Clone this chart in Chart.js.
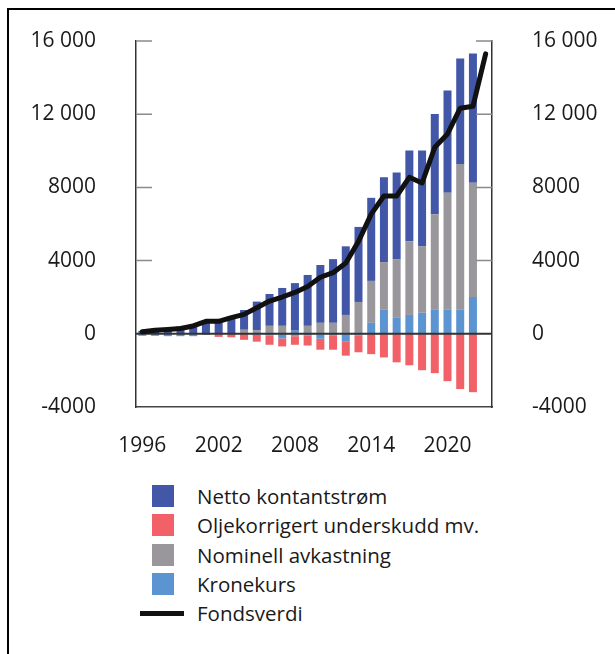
<!DOCTYPE html>
<html>
<head>
<meta charset="utf-8">
<script src="https://cdn.jsdelivr.net/npm/chart.js@4.4.1/dist/chart.umd.min.js"></script>
<style>
    body {
        margin: 0;
        width: 615px;
        height: 654px;
        overflow: hidden;
        position: relative;
        background: #fff;
        font-family: 'Open Sans', sans-serif;
        color: #1a1a1a;
    }
    #frame {
        position: absolute;
        left: 7px;
        top: 8px;
        width: 700px;
        height: 700px;
        border-left: 2px solid #000;
        border-top: 2px solid #000;
    }
    #chart {
        position: absolute;
        left: 0;
        top: 0;
    }
    .legend-row {
        position: absolute;
        left: 0;
        height: 29px;
        width: 615px;
    }
    .legend-box {
        position: absolute;
        left: 152px;
        top: 3px;
        width: 22px;
        height: 22px;
    }
    .legend-line {
        position: absolute;
        left: 140px;
        top: 12px;
        width: 44px;
        height: 5px;
        background: #111;
    }
    .legend-text {
        position: absolute;
        left: 197px;
        top: 0;
        line-height: 29px;
        font-size: 20.5px;
        white-space: nowrap;
    }
</style>
</head>
<body>
<div id="frame"></div>
<canvas id="chart" width="615" height="472"></canvas>
<div id="legend"></div>
<script>
// Data (NOK bn), bars 1996-2022, fund value 1996-2023
const years = [1996, 1997, 1998, 1999, 2000, 2001, 2002, 2003, 2004, 2005, 2006, 2007, 2008, 2009,
    2010, 2011, 2012, 2013, 2014, 2015, 2016, 2017, 2018, 2019, 2020, 2021, 2022, 2023];
const shownYears = [1996, 2002, 2008, 2014, 2020];
const yTickLabels = ['-4000', '0', '4000', '8000', '12 000', '16 000'];

const nettoKontantstrom = [160, 230, 300, 400, 540, 720, 780, 920, 1080, 1580, 1740, 2070, 2600, 2780,
    3160, 3480, 3750, 4100, 4540, 4630, 4730, 4950, 5220, 5480, 5590, 5770, 7060];
const oljekorrigert = [0, 0, 0, 0, 0, 0, -170, -190, -330, -370, -500, -440, -470, -540,
    -600, -790, -760, -930, -1110, -1290, -1560, -1720, -1990, -2150, -2590, -3020, -3190];
const nominellAvkastning = [0, 0, 0, 0, 0, -60, 0, 40, 220, 180, 435, 435, -130, 435,
    600, 600, 1030, 1740, 2290, 2610, 3210, 4030, 3640, 5210, 6390, 7960, 6250];
const kronekurs = [-110, -110, -130, -130, -130, 0, 0, 0, 0, -60, -100, -250, 170, -100,
    -270, -80, -435, -80, 600, 1310, 870, 1030, 1150, 1320, 1320, 1320, 2010];
const fondsverdi = [110, 190, 240, 290, 430, 680, 680, 880, 1060, 1420, 1790, 2010, 2260, 2580,
    3090, 3340, 3870, 5050, 6540, 7530, 7530, 8550, 8240, 10190, 10920, 12330, 12430, 15300];

const colors = {
    netto: '#4257a8',
    olje: '#f26068',
    nominell: '#99979b',
    krone: '#5b94d1',
    fond: '#111111'
};

const fontSpec = { family: "'Open Sans', sans-serif", size: 21 };

// Short inward ticks on both axes and a zero line over the bars
const innerTicks = {
    id: 'innerTicks',
    beforeDatasetDraw(chart, args) {
        if (args.index !== 0) return;
        const ctx = chart.ctx;
        const area = chart.chartArea;
        const y = chart.scales.y;
        ctx.save();
        ctx.strokeStyle = '#8a8a8a';
        ctx.lineWidth = 1.5;
        y.ticks.forEach(t => {
            if (t.value === 0 || t.value === y.min) return;
            const py = y.getPixelForValue(t.value);
            ctx.beginPath();
            ctx.moveTo(area.left, py);
            ctx.lineTo(area.left + 16, py);
            ctx.moveTo(area.right - 16, py);
            ctx.lineTo(area.right, py);
            ctx.stroke();
        });
        const zero = y.getPixelForValue(0);
        ctx.strokeStyle = '#333';
        ctx.lineWidth = 2;
        ctx.beginPath();
        ctx.moveTo(area.left, zero);
        ctx.lineTo(area.right, zero);
        ctx.stroke();
        ctx.restore();
    }
};

const yAxisBase = {
    stacked: true,
    min: -4000,
    max: 16000,
    grid: { display: false, drawTicks: false },
    border: { display: true, color: '#333', width: 1.5 },
    ticks: {
        stepSize: 4000,
        padding: 40,
        color: '#1a1a1a',
        font: fontSpec,
        callback: (v, i) => yTickLabels[i]
    }
};

// keep the tick padding from pushing the plot area down
function fitY(width) {
    return s => {
        s.width = width;
        s.paddingTop = 12;
        s.paddingBottom = 12;
    };
}

const barBase = {
    type: 'bar',
    barPercentage: 0.63,
    categoryPercentage: 1,
    borderWidth: 0
};

const chart = new Chart(document.getElementById('chart'), {
    data: {
        labels: years,
        datasets: [
            {
                type: 'line',
                label: 'Fondsverdi',
                data: fondsverdi,
                borderColor: colors.fond,
                backgroundColor: colors.fond,
                borderWidth: 5,
                pointRadius: 0,
                tension: 0,
                borderJoinStyle: 'round',
                borderCapStyle: 'round',
                yAxisID: 'y'
            },
            Object.assign({ label: 'Kronekurs', data: kronekurs, backgroundColor: colors.krone }, barBase),
            Object.assign({ label: 'Nominell avkastning', data: nominellAvkastning, backgroundColor: colors.nominell }, barBase),
            Object.assign({ label: 'Oljekorrigert underskudd mv.', data: oljekorrigert, backgroundColor: colors.olje }, barBase),
            Object.assign({ label: 'Netto kontantstrøm', data: nettoKontantstrom, backgroundColor: colors.netto }, barBase)
        ]
    },
    options: {
        responsive: false,
        animation: false,
        layout: { padding: { top: 41, left: 0, right: 0, bottom: 0 } },
        plugins: {
            legend: { display: false },
            tooltip: { enabled: false }
        },
        scales: {
            x: {
                stacked: true,
                grid: { display: false, drawTicks: false },
                border: { display: true, color: '#444', width: 1.5 },
                ticks: {
                    autoSkip: false,
                    maxRotation: 0,
                    padding: 26,
                    color: '#1a1a1a',
                    font: fontSpec,
                    callback: (v, i) => shownYears.includes(years[i]) ? String(years[i]) : ''
                },
                afterFit: s => { s.height = 65; }
            },
            y: Object.assign({}, yAxisBase, {
                position: 'left',
                afterFit: fitY(136)
            }),
            y1: Object.assign({}, yAxisBase, {
                position: 'right',
                afterFit: fitY(123)
            })
        }
    },
    plugins: [innerTicks]
});

// HTML legend in the original order
const legendOrder = ['Netto kontantstrøm', 'Oljekorrigert underskudd mv.', 'Nominell avkastning', 'Kronekurs', 'Fondsverdi'];
const legendEl = document.getElementById('legend');
legendOrder.forEach((name, i) => {
    const ds = chart.data.datasets.find(d => d.label === name);
    const row = document.createElement('div');
    row.className = 'legend-row';
    row.style.top = (482 + i * 29.3) + 'px';
    const mark = document.createElement('div');
    if (ds.type === 'line') {
        mark.className = 'legend-line';
    } else {
        mark.className = 'legend-box';
        mark.style.background = ds.backgroundColor;
    }
    const text = document.createElement('div');
    text.className = 'legend-text';
    text.textContent = name;
    row.appendChild(mark);
    row.appendChild(text);
    legendEl.appendChild(row);
});
</script>
</body>
</html>
